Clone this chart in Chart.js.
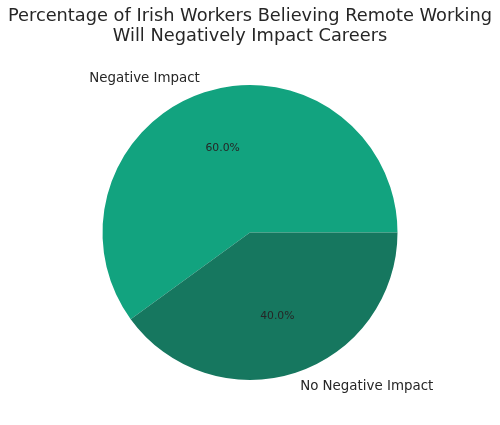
<!DOCTYPE html>
<html>
<head>
<meta charset="utf-8">
<script src="https://cdn.jsdelivr.net/npm/chart.js@4"></script>
<style>
html,body{margin:0;padding:0;background:#fff;}
#wrap{width:500px;height:425px;}
</style>
</head>
<body>
<div id="wrap"><canvas id="c" width="500" height="425"></canvas></div>
<script>
const titleLines = ["Percentage of Irish Workers Believing Remote Working", "Will Negatively Impact Careers"];
const categories = ["Negative Impact", "No Negative Impact"];
const values = [60, 40];
const colors = ["#12a37f", "#16775f"];

const total = values.reduce((a, b) => a + b, 0);
// matplotlib style: first slice starts at 3 o'clock going counter-clockwise
const rotation = 90 + 360 * (total - values[0]) / total;

const FONT = "'DejaVu Sans', sans-serif";
const TEXT = "#262626";

const piePlugin = {
  id: 'pieText',
  afterDraw(chart) {
    const ctx = chart.ctx;
    ctx.save();
    ctx.fillStyle = TEXT;
    // title
    ctx.font = "17.8px " + FONT;
    ctx.textAlign = 'center';
    ctx.textBaseline = 'middle';
    titleLines.forEach((t, i) => ctx.fillText(t, 250, 16 + i * 20.5));
    const meta = chart.getDatasetMeta(0);
    meta.data.forEach((arc, i) => {
      const p = arc.getProps(['x', 'y', 'startAngle', 'endAngle', 'outerRadius'], true);
      const mid = (p.startAngle + p.endAngle) / 2;
      const c = Math.cos(mid), s = Math.sin(mid);
      ctx.font = "13.4px " + FONT;
      ctx.textBaseline = 'middle';
      ctx.textAlign = c > 0 ? 'left' : 'right';
      ctx.fillText(categories[i], p.x + c * p.outerRadius * 1.1, p.y + s * p.outerRadius * 1.1);
      ctx.font = "10.8px " + FONT;
      ctx.textAlign = 'center';
      const pct = (values[i] / total * 100).toFixed(1) + '%';
      ctx.fillText(pct, p.x + c * p.outerRadius * 0.6, p.y + s * p.outerRadius * 0.6);
    });
    ctx.restore();
  }
};

new Chart(document.getElementById('c'), {
  type: 'pie',
  data: {
    labels: categories,
    datasets: [{
      data: values,
      backgroundColor: colors,
      borderWidth: 0
    }]
  },
  options: {
    responsive: false,
    animation: false,
    rotation: rotation,
    layout: { padding: { left: 102.5, right: 102.5, top: 85, bottom: 45 } },
    plugins: {
      legend: { display: false },
      title: { display: false },
      tooltip: { enabled: false }
    }
  },
  plugins: [piePlugin]
});
</script>
</body>
</html>
